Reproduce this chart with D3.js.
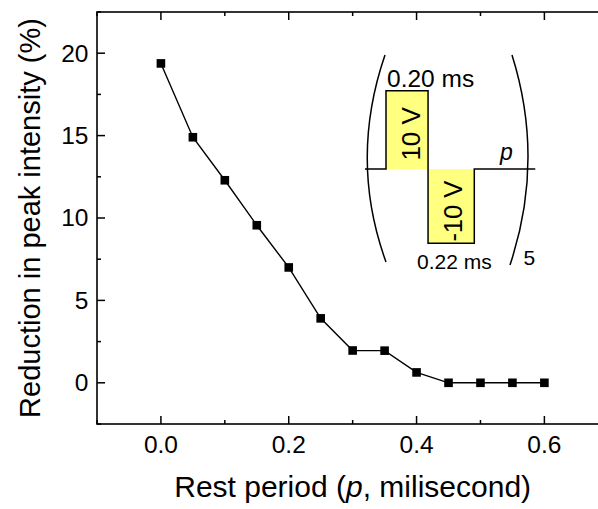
<!DOCTYPE html>
<html>
<head>
<meta charset="utf-8">
<script src="https://cdn.jsdelivr.net/npm/d3@7"></script>
<style>
  html, body { margin: 0; padding: 0; background: #fff; }
  svg { display: block; }
  text { font-family: "Liberation Sans", Arial, Helvetica, sans-serif; fill: #000; }
</style>
</head>
<body>
<svg id="chart" width="598" height="509"></svg>
<script>
// Rest period between pulse trains (ms) and the resulting drop in peak intensity (%)
const restPeriod = [0, 0.05, 0.10, 0.15, 0.20, 0.25, 0.30, 0.35, 0.40, 0.45, 0.50, 0.55, 0.60];
const reduction  = [19.38, 14.9, 12.29, 9.56, 7.0, 3.91, 1.96, 1.95, 0.63, 0, 0, 0, 0];

const xMajorTicks = [0, 0.2, 0.4, 0.6];
const xMinorTicks = [-0.1, 0.1, 0.3, 0.5, 0.7];
const yMajorTicks = [0, 5, 10, 15, 20];
const yMinorTicks = [-2.5, 2.5, 7.5, 12.5, 17.5, 22.5];

// Pulse waveform sketched in the inset: time in ms, amplitude in volts
const pulseTime    = [-0.10, 0, 0, 0.20, 0.20, 0.42, 0.42, 0.71];
const pulseVoltage = [0, 0, 10, 10, -10, -10, 0, 0];
const posPulse = { t0: 0, t1: 0.20, v: 10, label: "10 V", width: "0.20 ms" };
const negPulse = { t0: 0.20, t1: 0.42, v: -10, label: "-10 V", width: "0.22 ms" };
const repeatCount = "5";

const svg = d3.select("#chart");
const mLeft = 97, mTop = 12, mBottom = 424, mRight = 608.3;

const x = d3.scaleLinear().domain([-0.1, 0.7]).range([mLeft, mRight]);
const y = d3.scaleLinear().domain([-2.5, 22.5]).range([mBottom, mTop]);

const g = svg.append("g");

// Frame
g.append("rect")
  .attr("x", mLeft).attr("y", mTop)
  .attr("width", mRight - mLeft).attr("height", mBottom - mTop)
  .attr("fill", "none").attr("stroke", "#000").attr("stroke-width", 1.6);

// Inward ticks on all four sides
function xticks(sel, vals, len) {
  vals.forEach(v => {
    sel.append("line").attr("x1", x(v)).attr("x2", x(v)).attr("y1", mBottom).attr("y2", mBottom - len);
    sel.append("line").attr("x1", x(v)).attr("x2", x(v)).attr("y1", mTop).attr("y2", mTop + len);
  });
}
function yticks(sel, vals, len) {
  vals.forEach(v => {
    sel.append("line").attr("x1", mLeft).attr("x2", mLeft + len).attr("y1", y(v)).attr("y2", y(v));
    sel.append("line").attr("x1", mRight).attr("x2", mRight - len).attr("y1", y(v)).attr("y2", y(v));
  });
}
const tg = g.append("g").attr("stroke", "#000").attr("stroke-width", 1.5);
xticks(tg, xMajorTicks, 8);
xticks(tg, xMinorTicks, 4);
yticks(tg, yMajorTicks, 8);
yticks(tg, yMinorTicks, 4);

// Tick labels
g.append("g").selectAll("text").data(xMajorTicks).join("text")
  .attr("x", d => x(d)).attr("y", 453)
  .attr("text-anchor", "middle").attr("font-size", 24.5)
  .text(d3.format(".1f"));

g.append("g").selectAll("text").data(yMajorTicks).join("text")
  .attr("x", mLeft - 8.5).attr("y", d => y(d)).attr("dy", "0.34em")
  .attr("text-anchor", "end").attr("font-size", 24.5)
  .text(d => d);

// Axis titles
const xt = g.append("text")
  .attr("x", (mLeft + mRight) / 2).attr("y", 497)
  .attr("text-anchor", "middle").attr("font-size", 30);
xt.append("tspan").text("Rest period (");
xt.append("tspan").attr("font-style", "italic").text("p");
xt.append("tspan").text(", milisecond)");

g.append("text")
  .attr("transform", `translate(39.5,${(mTop + mBottom) / 2}) rotate(-90)`)
  .attr("text-anchor", "middle").attr("font-size", 29)
  .text("Reduction in peak intensity (%)");

// Data line and square markers
const pts = restPeriod.map((t, i) => [t, reduction[i]]);
g.append("path")
  .datum(pts)
  .attr("fill", "none").attr("stroke", "#000").attr("stroke-width", 1.4)
  .attr("d", d3.line().x(d => x(d[0])).y(d => y(d[1])));

const ms = 8.6;
g.append("g").selectAll("rect").data(pts).join("rect")
  .attr("x", d => x(d[0]) - ms / 2).attr("y", d => y(d[1]) - ms / 2)
  .attr("width", ms).attr("height", ms).attr("fill", "#000");

// Inset: one bipolar pulse period, repeated five times
const tx = d3.scaleLinear().domain([0, 0.42]).range([386, 474.3]);
const vy = d3.scaleLinear().domain([-10, 0, 10]).range([243.3, 169, 90.7]);
const inset = g.append("g");

[posPulse, negPulse].forEach(p => {
  inset.append("rect")
    .attr("x", tx(p.t0)).attr("width", tx(p.t1) - tx(p.t0))
    .attr("y", Math.min(vy(p.v), vy(0))).attr("height", Math.abs(vy(p.v) - vy(0)))
    .attr("fill", "#ffff80");
});

inset.append("path")
  .datum(pulseTime.map((t, i) => [t, pulseVoltage[i]]))
  .attr("fill", "none").attr("stroke", "#000").attr("stroke-width", 1.5)
  .attr("d", d3.line().x(p => tx(p[0])).y(p => vy(p[1])));

// Amplitude labels inside the boxes
inset.append("text")
  .attr("transform", `translate(419.5,${(vy(10) + vy(0)) / 2 + 4}) rotate(-90)`)
  .attr("text-anchor", "middle").attr("font-size", 26)
  .text(posPulse.label);
inset.append("text")
  .attr("transform", `translate(461.7,${(vy(-10) + vy(0)) / 2 + 5}) rotate(-90)`)
  .attr("text-anchor", "middle").attr("font-size", 25.5)
  .text(negPulse.label);

// Pulse widths and rest period label
inset.append("text").attr("x", 387).attr("y", 86.7).attr("font-size", 24.5).text(posPulse.width);
inset.append("text").attr("x", 417).attr("y", 268.5).attr("font-size", 21).text(negPulse.width);
inset.append("text").attr("x", 500).attr("y", 160).attr("font-size", 23).attr("font-style", "italic").text("p");

// Brackets and repeat count
inset.append("path")
  .attr("d", "M385,55 Q349,160 386,262")
  .attr("fill", "none").attr("stroke", "#000").attr("stroke-width", 1.5);
inset.append("path")
  .attr("d", "M512,55 Q545,160 510,265")
  .attr("fill", "none").attr("stroke", "#000").attr("stroke-width", 1.5);
inset.append("text").attr("x", 523.5).attr("y", 264.5).attr("font-size", 21).text(repeatCount);
</script>
</body>
</html>
